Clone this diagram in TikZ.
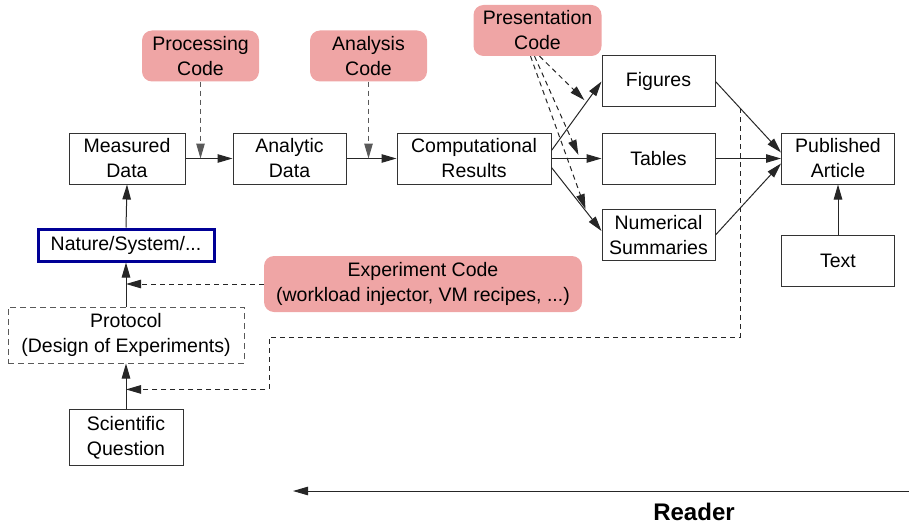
\documentclass[tikz,border=0pt]{standalone}
\usepackage{fontspec}
\setmainfont{Liberation Sans}
\usetikzlibrary{arrows.meta,calc}
\definecolor{codepink}{RGB}{239,165,165}
\definecolor{sysblue}{RGB}{0,0,150}
\begin{document}
\begin{tikzpicture}[x=1pt,y=-1pt,
  every node/.style={font=\fontsize{19.5}{25}\selectfont, align=center, inner sep=0pt},
  box/.style={draw=black!80, line width=1pt, minimum width=113pt, minimum height=51pt},
  codebox/.style={fill=codepink, rounded corners=10pt, minimum height=51pt},
  sysbox/.style={draw=sysblue, line width=3pt, minimum width=176pt, minimum height=32pt},
  arr/.style={draw=black!85, line width=1pt, -{Triangle[length=15pt,width=8.5pt]}},
  dasharr/.style={arr, dash pattern=on 5pt off 4pt},
]
\useasboundingbox (0,0) rectangle (909,524);

% main pipeline
\node[box, minimum width=116pt] (meas) at (127,158.5) {Measured\\Data};
\node[box] (anal) at (289.5,158.5) {Analytic\\Data};
\node[box, minimum width=154pt] (comp) at (474,158.5) {Computational\\Results};
\node[box] (fig) at (658.5,81.5) {Figures};
\node[box] (tab) at (658.5,158.5) {Tables};
\node[box] (num) at (658.5,235) {Numerical\\Summaries};
\node[box] (pub) at (838,158.5) {Published\\Article};
\node[box] (txt) at (838,261) {Text};

% experiment side
\node[sysbox] (nat) at (126,245) {Nature/System/...};
\node[draw=black!65, line width=1pt, dash pattern=on 6pt off 4pt,
      minimum width=236pt, minimum height=56pt] (prot) at (126,335)
      {Protocol\\(Design of Experiments)};
\node[box, minimum width=114pt, minimum height=56pt] (sci) at (126,437.5) {Scientific\\Question};

% code
\node[codebox, minimum width=117pt] (proc) at (200.5,56) {Processing\\Code};
\node[codebox, minimum width=117pt] (ancode) at (368.5,56) {Analysis\\Code};
\node[codebox, minimum width=128pt] (pres) at (537.5,30.5) {Presentation\\Code};
\node[codebox, minimum width=318pt, minimum height=56pt] (exp) at (423,284)
      {Experiment Code\\(workload injector, VM recipes, ...)};

% solid flow
\draw[arr] (meas.east) -- (anal.west);
\draw[arr] (anal.east) -- (comp.west);
\draw[arr] ($(comp.east)+(0,-8)$) -- (fig.west) coordinate[pos=0.7] (pf);
\draw[arr] (comp.east) -- (tab.west) coordinate[pos=0.57] (pt);
\draw[arr] ($(comp.east)+(0,9)$) -- ($(num.west)+(0,-4)$) coordinate[pos=0.7] (pn);
\draw[arr] (fig.east) -- ($(pub.west)+(0,-6)$) coordinate[pos=0.38] (fp);
\draw[arr] (tab.east) -- (pub.west);
\draw[arr] (num.east) -- ($(pub.west)+(0,5)$);
\draw[arr] (txt.north) -- (pub.south);
\draw[arr] (nat.north) -- (meas.south);
\draw[arr] (prot.north) -- (nat.south);
\draw[arr] (sci.north) -- (prot.south) coordinate[pos=0.43] (qp);

% code dependencies
\draw[dasharr, draw=black!65] (proc.south) -- (proc.south |- meas.east);
\draw[dasharr, draw=black!65] (ancode.south) -- (ancode.south |- anal.east);
\draw[dasharr, shorten >=3pt] ($(pres.south)+(2,0)$) -- (pf);
\draw[dasharr, shorten >=4pt] ($(pres.south)+(-3,0)$) -- (pt);
\draw[dasharr, shorten >=3pt] ($(pres.south)+(-7,0)$) -- (pn);
\draw[dasharr] (exp.west) -- (exp.west -| prot.north);
\coordinate (bend) at (269,337);
\draw[dasharr] (fp) |- (bend) |- (qp);

% reading direction
\coordinate (rstart) at (909,491);
\coordinate (rend) at (293,491);
\draw[arr] (rstart) -- (rend);
\node[font=\fontsize{24}{28}\selectfont\bfseries, anchor=base] (reader) at (694,520) {Reader};
\end{tikzpicture}
\end{document}
